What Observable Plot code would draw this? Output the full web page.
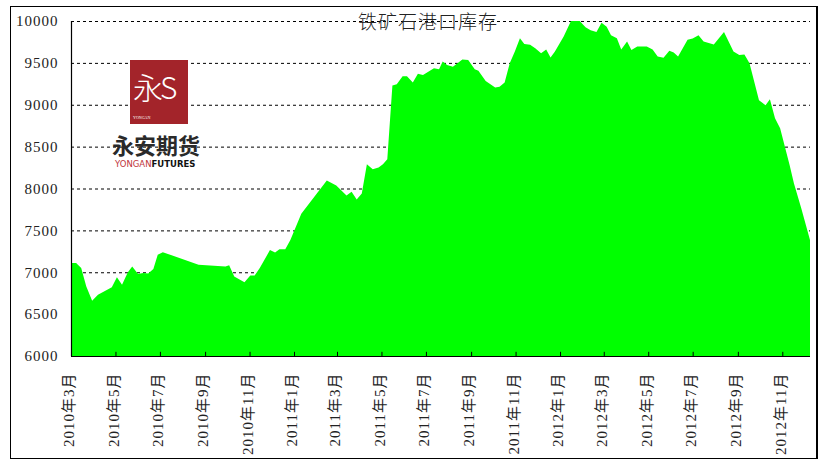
<!DOCTYPE html>
<html>
<head>
<meta charset="utf-8">
<script src="https://cdn.jsdelivr.net/npm/d3@7"></script>
<script src="https://cdn.jsdelivr.net/npm/@observablehq/plot@0.6"></script>
<style>
  html, body { margin: 0; padding: 0; background: #fff; }
  #wrap { position: relative; width: 827px; height: 462px; overflow: hidden; font-family: "Liberation Serif", "Noto Sans CJK SC", serif; }
  #border { position: absolute; left: 10px; top: 6px; width: 808px; height: 453px; border: 1px solid #000; border-right-width: 2px; box-sizing: border-box; pointer-events: none; }
  #title { position: absolute; left: 318px; width: 220px; top: 8px; text-align: center; font-size: 19px; letter-spacing: 1px; color: #222; font-family: "Noto Sans CJK SC", sans-serif; font-weight: 300; line-height: 26px; }
  #logoBox { position: absolute; left: 130px; top: 60px; width: 58px; height: 64px; background: #a3242a; color: #fff; }
  #logoBox .g { position: absolute; left: 3px; top: 8px; width: 52px; font-size: 30px; line-height: 36px; font-family: "Noto Sans CJK SC", sans-serif; font-weight: 300; white-space: nowrap; letter-spacing: -3px; }
  #logoBox .y { position: absolute; left: 3px; top: 55px; font-size: 4px; line-height: 5px; }
  #logoName { position: absolute; left: 112px; top: 132px; font-size: 22px; line-height: 25px; font-weight: 700; color: #2a2a2a; font-family: "Noto Sans CJK SC", sans-serif; }
  #logoSub { position: absolute; left: 115px; top: 159px; font-size: 8.5px; line-height: 10px; font-family: "DejaVu Sans", sans-serif; white-space: nowrap; }
</style>
</head>
<body>
<div id="wrap">
  <div id="chart"></div>
  <div id="logoBox"><span class="g">永S</span><span class="y">YONGAN</span></div>
  <div id="logoName">永安期货</div>
  <div id="logoSub"><span style="color:#c0343a">YONGAN</span><b style="color:#111">FUTURES</b></div>
  <div id="title"></div>
  <div id="border"></div>
</div>
<script>
const titleText = "铁矿石港口库存";

const dates = ["2010-03-01","2010-03-08","2010-03-15","2010-03-22","2010-03-30","2010-04-07","2010-04-26","2010-05-03","2010-05-10","2010-05-18","2010-05-24","2010-06-01","2010-06-08","2010-06-15","2010-06-22","2010-06-28","2010-07-05","2010-08-23","2010-09-29","2010-10-04","2010-10-11","2010-10-25","2010-11-02","2010-11-08","2010-11-15","2010-11-29","2010-12-06","2010-12-12","2010-12-20","2010-12-27","2011-01-11","2011-02-15","2011-02-28","2011-03-14","2011-03-21","2011-03-28","2011-04-04","2011-04-11","2011-04-19","2011-04-27","2011-05-03","2011-05-09","2011-05-16","2011-05-22","2011-05-30","2011-06-05","2011-06-13","2011-06-20","2011-06-27","2011-07-12","2011-07-19","2011-07-24","2011-07-30","2011-08-07","2011-08-20","2011-08-28","2011-09-06","2011-09-11","2011-09-21","2011-10-04","2011-10-10","2011-10-17","2011-10-24","2011-10-31","2011-11-07","2011-11-13","2011-11-21","2011-11-28","2011-12-06","2011-12-13","2011-12-19","2011-12-25","2012-01-06","2012-01-16","2012-01-28","2012-02-05","2012-02-12","2012-02-20","2012-02-27","2012-03-05","2012-03-11","2012-03-19","2012-03-25","2012-04-02","2012-04-08","2012-04-16","2012-04-29","2012-05-07","2012-05-14","2012-05-22","2012-05-30","2012-06-05","2012-06-11","2012-06-24","2012-07-01","2012-07-09","2012-07-16","2012-07-30","2012-08-13","2012-08-26","2012-09-03","2012-09-10","2012-09-17","2012-09-30","2012-10-09","2012-10-15","2012-10-22","2012-10-29","2012-11-11","2012-11-17","2012-11-27","2012-12-09"];

const inventory = [7110,7110,7050,6830,6660,6730,6820,6940,6850,7000,7070,6980,6990,6985,7040,7210,7240,7090,7070,7085,6950,6880,6960,6960,7050,7265,7235,7275,7275,7385,7700,8095,8035,7915,7960,7870,7940,8290,8230,8250,8290,8350,9230,9245,9340,9340,9265,9370,9355,9435,9425,9515,9475,9455,9540,9535,9425,9405,9285,9205,9215,9265,9495,9635,9795,9725,9715,9675,9615,9660,9565,9635,9815,10000,10000,9925,9890,9870,9980,9930,9830,9795,9660,9755,9655,9695,9695,9660,9575,9560,9645,9625,9575,9775,9790,9830,9755,9720,9870,9635,9595,9600,9495,9055,8995,9065,8840,8720,8280,8060,7765,7385];

const yTicks = [6000,6500,7000,7500,8000,8500,9000,9500,10000];
const gridValues = [6500,7000,7500,8000,8500,9000,9500,10000];

const xTickDates = ["2010-03-01","2010-05-01","2010-07-01","2010-09-01","2010-11-01","2011-01-01","2011-03-01","2011-05-01","2011-07-01","2011-09-01","2011-11-01","2012-01-01","2012-03-01","2012-05-01","2012-07-01","2012-09-01","2012-11-01"];
const xTickLabels = ["2010年3月","2010年5月","2010年7月","2010年9月","2010年11月","2011年1月","2011年3月","2011年5月","2011年7月","2011年9月","2011年11月","2012年1月","2012年3月","2012年5月","2012年7月","2012年9月","2012年11月"];

document.getElementById("title").textContent = titleText;

const parse = d3.utcParse("%Y-%m-%d");
const data = dates.map((d, i) => ({date: parse(d), value: inventory[i]}));
const ticks = xTickDates.map(parse);
const labelOf = new Map(ticks.map((t, i) => [+t, xTickLabels[i]]));

const chart = Plot.plot({
  width: 827,
  height: 462,
  marginLeft: 71,
  marginRight: 17,
  marginTop: 21,
  marginBottom: 106,
  style: {fontFamily: '"Liberation Serif", "Noto Sans CJK SC", serif', fontSize: "15px", background: "transparent", color: "#222"},
  x: {type: "utc", domain: [parse(dates[0]), parse(dates[dates.length - 1])]},
  y: {domain: [6000, 10000]},
  marks: [
    Plot.ruleY(gridValues, {stroke: "#000", strokeWidth: 1, strokeDasharray: "3,3"}),
    Plot.areaY(data, {x: "date", y1: 6000, y2: "value", fill: "#00ff00", curve: "linear"}),
    Plot.ruleX(ticks, {y1: 6000, y2: 6050, stroke: "#000"}),
    Plot.ruleY([6000], {stroke: "#000", strokeWidth: 1.2}),
    Plot.ruleX([parse(dates[0])], {stroke: "#000", strokeWidth: 1.2}),
    Plot.axisY(yTicks, {tickSize: 0, tickPadding: 13, label: null, fontSize: 15, tickFormat: d3.format("d")}),
    Plot.axisX(ticks, {tickSize: 0, tickPadding: 16, tickRotate: -90, label: null, tickFormat: d => labelOf.get(+d), fontSize: 15, dx: -2})
  ]
});
document.getElementById("chart").appendChild(chart);
d3.select(chart).selectAll("text").attr("letter-spacing", "1");
</script>
</body>
</html>
